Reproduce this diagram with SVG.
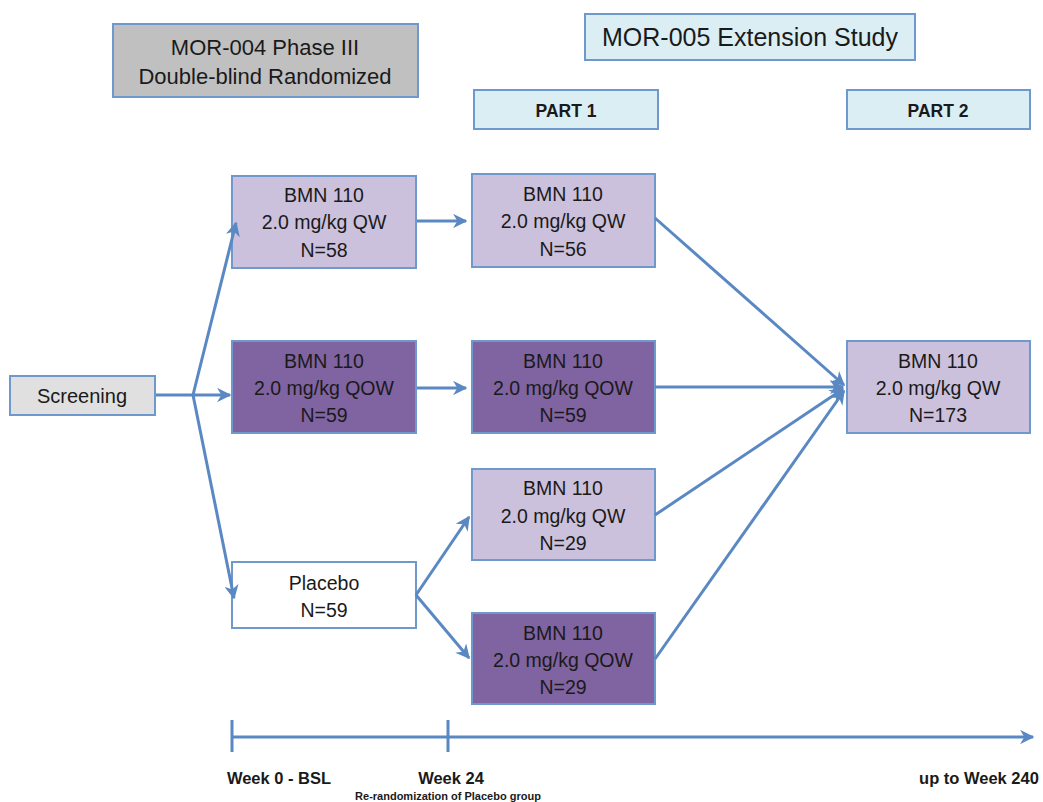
<svg xmlns="http://www.w3.org/2000/svg" width="1043" height="802" viewBox="0 0 1043 802">
<defs>
<marker id="ah" viewBox="0 0 10 10" refX="9" refY="5" markerWidth="4.8" markerHeight="4.8" orient="auto" markerUnits="strokeWidth">
<path d="M0,0 L10,5 L0,10 L3,5 Z" fill="#5a88c3"/>
</marker>
<style>
.box{stroke:#6f98cc;stroke-width:2}
.gray{fill:#c0c0c0}
.scr{fill:#e0e0e0}
.blue{fill:#dbeef4}
.lp{fill:#ccc1dc}
.dp{fill:#8063a1}
.wh{fill:#ffffff}
text{font-family:"Liberation Sans","Open Sans",sans-serif;fill:#1a1a1a;text-anchor:middle}
.t{font-size:19.5px}
.h{font-size:22px}
.b{font-weight:bold;font-size:17.5px}
.w{font-size:16.5px;font-weight:bold}
.c line,.c path{stroke:#5a88c3;stroke-width:3;fill:none}
</style>
</defs>
<g id="mor004"><rect class="box gray" x="113" y="24" width="305" height="73"/><text class="h" x="265" y="55">MOR-004 Phase III</text><text class="h" x="265" y="84">Double-blind Randomized</text></g>
<g id="mor005"><rect class="box blue" x="585" y="14" width="330" height="46"/><text x="750" y="46" style="font-size:25px">MOR-005 Extension Study</text></g>
<g id="part1"><rect class="box blue" x="474" y="90" width="184" height="39"/><text class="b" x="566" y="117">PART 1</text></g>
<g id="part2"><rect class="box blue" x="847" y="90" width="183" height="39"/><text class="b" x="938" y="117">PART 2</text></g>
<g id="screening"><rect class="box scr" x="10" y="376" width="145" height="39"/><text x="82" y="403" style="font-size:20px">Screening</text></g>
<g id="qw1"><rect class="box lp" x="232" y="176" width="184" height="92"/><text class="t" x="324" y="202">BMN 110</text><text class="t" x="324" y="229">2.0 mg/kg QW</text><text class="t" x="324" y="257">N=58</text></g>
<g id="qow1"><rect class="box dp" x="232" y="341" width="184" height="92"/><text class="t" x="324" y="368">BMN 110</text><text class="t" x="324" y="395">2.0 mg/kg QOW</text><text class="t" x="324" y="422">N=59</text></g>
<g id="placebo"><rect class="box wh" x="232" y="562" width="184" height="66"/><text class="t" x="324" y="590">Placebo</text><text class="t" x="324" y="617">N=59</text></g>
<g id="qw2"><rect class="box lp" x="472" y="174" width="183" height="93"/><text class="t" x="563" y="201">BMN 110</text><text class="t" x="563" y="228">2.0 mg/kg QW</text><text class="t" x="563" y="256">N=56</text></g>
<g id="qow2"><rect class="box dp" x="472" y="341" width="183" height="92"/><text class="t" x="563" y="368">BMN 110</text><text class="t" x="563" y="395">2.0 mg/kg QOW</text><text class="t" x="563" y="422">N=59</text></g>
<g id="qw3"><rect class="box lp" x="472" y="469" width="183" height="91"/><text class="t" x="563" y="495">BMN 110</text><text class="t" x="563" y="523">2.0 mg/kg QW</text><text class="t" x="563" y="550">N=29</text></g>
<g id="qow3"><rect class="box dp" x="472" y="613" width="183" height="91"/><text class="t" x="563" y="640">BMN 110</text><text class="t" x="563" y="667">2.0 mg/kg QOW</text><text class="t" x="563" y="694">N=29</text></g>
<g id="part2box"><rect class="box lp" x="847" y="341" width="183" height="92"/><text class="t" x="938" y="368">BMN 110</text><text class="t" x="938" y="395">2.0 mg/kg QW</text><text class="t" x="938" y="422">N=173</text></g>
<g id="connectors" class="c">
<line x1="156" y1="395" x2="193" y2="395"/>
<line x1="193" y1="395" x2="236" y2="223" marker-end="url(#ah)"/>
<line x1="193" y1="395" x2="230" y2="395" marker-end="url(#ah)"/>
<line x1="193" y1="395" x2="234" y2="598" marker-end="url(#ah)"/>
<line x1="417" y1="221" x2="466" y2="221" marker-end="url(#ah)"/>
<line x1="417" y1="388" x2="466" y2="388" marker-end="url(#ah)"/>
<line x1="416" y1="595" x2="469" y2="517" marker-end="url(#ah)"/>
<line x1="416" y1="595" x2="469" y2="658" marker-end="url(#ah)"/>
<line x1="655" y1="218" x2="844" y2="385" marker-end="url(#ah)"/>
<line x1="655" y1="387" x2="843" y2="387" marker-end="url(#ah)"/>
<line x1="655" y1="515" x2="843" y2="389" marker-end="url(#ah)"/>
<line x1="655" y1="659" x2="844" y2="391" marker-end="url(#ah)"/>
<line x1="232" y1="737" x2="1033" y2="737" marker-end="url(#ah)"/>
<line x1="232" y1="720" x2="232" y2="752"/>
<line x1="448" y1="720" x2="448" y2="752"/>
</g>
<g id="timeline-labels">
<text class="w" x="279" y="784">Week 0 - BSL</text>
<text class="w" x="451" y="784">Week 24</text>
<text class="w" x="979" y="784">up to Week 240</text>
<text x="448" y="800" style="font-size:11px;font-weight:bold">Re-randomization of Placebo group</text>
</g>
</svg>
